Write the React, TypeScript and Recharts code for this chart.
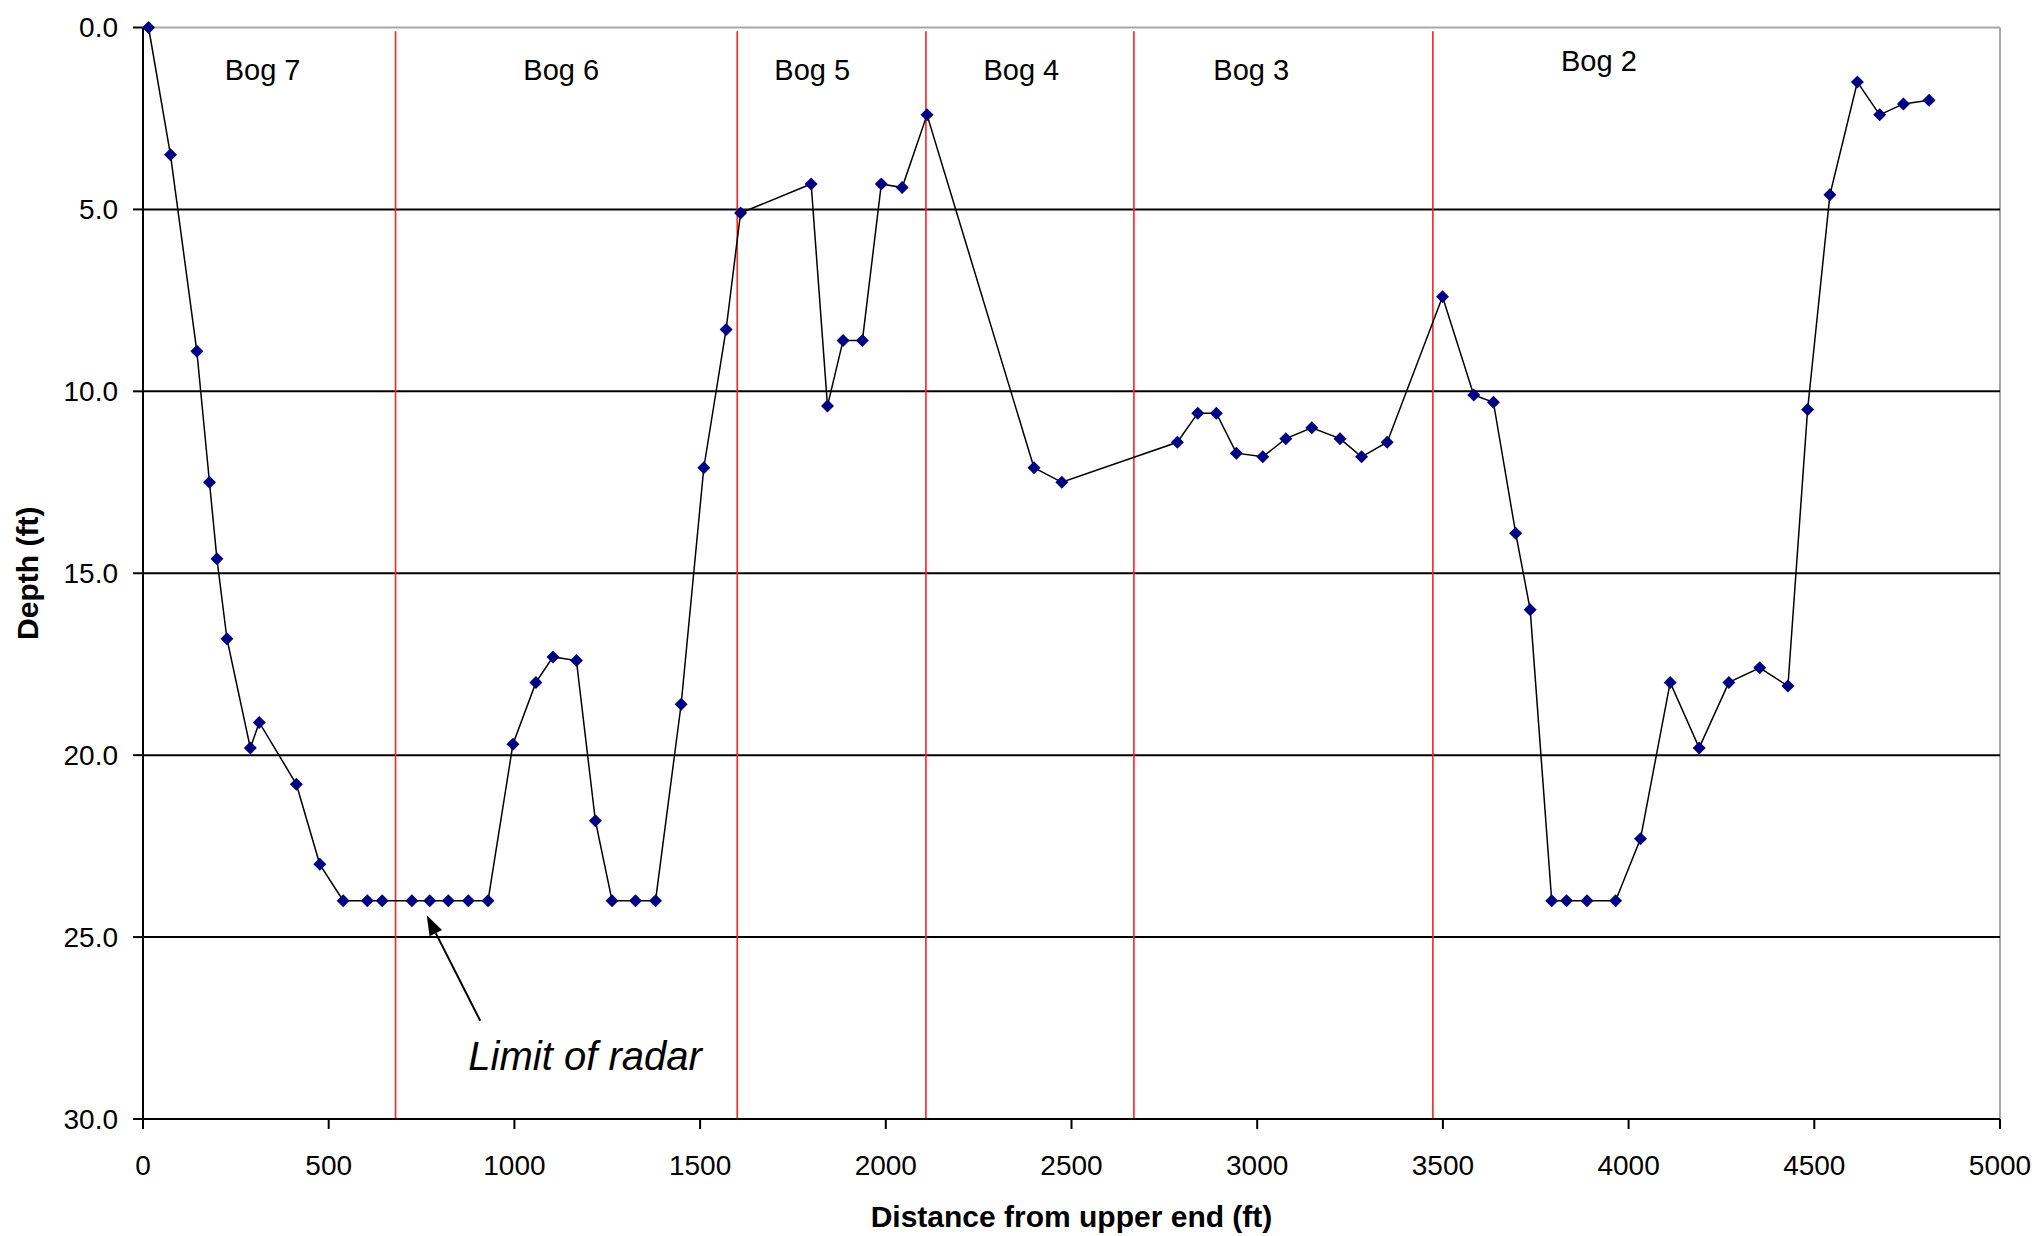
import { LineChart, Line, XAxis, YAxis, ReferenceLine, ReferenceDot, Label } from 'recharts';

// distance along the profile (ft) and measured depth (ft)
const distanceFt = [
  15, 74, 145, 179, 199, 226, 289, 313, 413, 476, 539, 604, 644, 724, 772, 822, 876, 929,
  996, 1058, 1104, 1167, 1218, 1263, 1326, 1380, 1449, 1510, 1570, 1609, 1799, 1843, 1885,
  1937, 1988, 2044, 2111, 2399, 2474, 2785, 2840, 2890, 2944, 3015, 3077, 3147, 3223, 3281,
  3350, 3499, 3583, 3636, 3696, 3735, 3793, 3833, 3888, 3965, 4032, 4112, 4190, 4270, 4353,
  4429, 4482, 4542, 4616, 4676, 4740, 4809,
];
const depthFt = [
  0.0, 3.5, 8.9, 12.5, 14.6, 16.8, 19.8, 19.1, 20.8, 23.0, 24.0, 24.0, 24.0, 24.0, 24.0, 24.0,
  24.0, 24.0, 19.7, 18.0, 17.3, 17.4, 21.8, 24.0, 24.0, 24.0, 18.6, 12.1, 8.3, 5.1, 4.3, 10.4,
  8.6, 8.6, 4.3, 4.4, 2.4, 12.1, 12.5, 11.4, 10.6, 10.6, 11.7, 11.8, 11.3, 11.0, 11.3, 11.8,
  11.4, 7.4, 10.1, 10.3, 13.9, 16.0, 24.0, 24.0, 24.0, 24.0, 22.3, 18.0, 19.8, 18.0, 17.6,
  18.1, 10.5, 4.6, 1.5, 2.4, 2.1, 2.0,
];

const xTicks = [0, 500, 1000, 1500, 2000, 2500, 3000, 3500, 4000, 4500, 5000];
const yTicks = [0, 5, 10, 15, 20, 25, 30];
const gridDepths = [5, 10, 15, 20, 25];

// bog boundaries (ft) and bog names
const bogBoundaries = [680, 1600, 2108, 2668, 3473];
const bogNames = ['Bog 7', 'Bog 6', 'Bog 5', 'Bog 4', 'Bog 3', 'Bog 2'];
const bogLabelX = [322, 1126, 1802, 2365, 2984, 3920];
const bogLabelDepth = [1.44, 1.44, 1.44, 1.44, 1.44, 1.2];

const chartData = distanceFt.map((dist, i) => ({ dist, depth: depthFt[i] }));

const FONT = '"Liberation Sans", Arial, Helvetica, sans-serif';

const renderDiamond = (props: any) => {
  const { cx, cy, index } = props;
  if (cx == null || cy == null) return null;
  const s = 6.5;
  return (
    <path
      key={`dia-${index}`}
      d={`M${cx},${cy - s}L${cx + s},${cy}L${cx},${cy + s}L${cx - s},${cy}Z`}
      fill="#000080"
    />
  );
};

const ArrowShape = (props: any) => {
  const { x1, y1, x2, y2 } = props;
  const ang = Math.atan2(y2 - y1, x2 - x1);
  const len = 20;
  const hw = 7;
  const bx = x2 - len * Math.cos(ang);
  const by = y2 - len * Math.sin(ang);
  const px = -Math.sin(ang) * hw;
  const py = Math.cos(ang) * hw;
  return (
    <g>
      <line x1={x1} y1={y1} x2={bx} y2={by} stroke="#000" strokeWidth={2} />
      <path d={`M${x2},${y2}L${bx + px},${by + py}L${bx - px},${by - py}Z`} fill="#000" />
    </g>
  );
};

export default function App() {
  return (
    <div
      style={{
        position: 'absolute',
        left: 0,
        top: 0,
        width: 2039,
        height: 1236,
        background: '#fff',
        fontFamily: FONT,
      }}
    >
      <LineChart
        width={2039}
        height={1236}
        data={chartData}
        margin={{ top: 27.5, right: 39, bottom: 57, left: 43 }}
      >
        <XAxis
          dataKey="dist"
          type="number"
          domain={[0, 5000]}
          ticks={xTicks}
          height={60}
          tickSize={10}
          tickMargin={26}
          axisLine={{ stroke: '#000', strokeWidth: 2 }}
          tickLine={{ stroke: '#000', strokeWidth: 2 }}
          tick={{ fontSize: 28, fill: '#000', fontFamily: FONT }}
        >
          <Label
            content={({ viewBox }: any) => (
              <text
                x={viewBox.x + viewBox.width / 2}
                y={viewBox.y + 108}
                textAnchor="middle"
                fontSize={30}
                fontWeight="bold"
                fontFamily={FONT}
                fill="#000"
              >
                Distance from upper end (ft)
              </text>
            )}
          />
        </XAxis>
        <YAxis
          type="number"
          reversed
          domain={[0, 30]}
          ticks={yTicks}
          width={100}
          tickSize={10}
          tickMargin={15}
          tickFormatter={(v: number) => v.toFixed(1)}
          axisLine={{ stroke: '#000', strokeWidth: 2 }}
          tickLine={{ stroke: '#000', strokeWidth: 2 }}
          tick={{ fontSize: 28, fill: '#000', fontFamily: FONT }}
        >
          <Label
            content={({ viewBox }: any) => {
              const cx = viewBox.x - 5;
              const cy = viewBox.y + viewBox.height / 2;
              return (
                <text
                  x={cx}
                  y={cy}
                  transform={`rotate(-90, ${cx}, ${cy})`}
                  textAnchor="middle"
                  fontSize={30}
                  fontWeight="bold"
                  fontFamily={FONT}
                  fill="#000"
                >
                  Depth (ft)
                </text>
              );
            }}
          />
        </YAxis>

        {/* plot frame: gray top and right, black horizontal gridlines */}
        <ReferenceLine y={0} stroke="#a8a8a8" strokeWidth={2} />
        <ReferenceLine x={5000} stroke="#a8a8a8" strokeWidth={2} />
        {gridDepths.map((d) => (
          <ReferenceLine key={`g-${d}`} y={d} stroke="#000" strokeWidth={2} />
        ))}

        {bogBoundaries.map((b) => (
          <ReferenceLine
            key={`b-${b}`}
            segment={[
              { x: b, y: 0.1 },
              { x: b, y: 30 },
            ]}
            stroke="#ff2020"
            strokeWidth={1.6}
          />
        ))}

        {bogNames.map((name, i) => (
          <ReferenceDot
            key={name}
            x={bogLabelX[i]}
            y={bogLabelDepth[i]}
            shape={(p: any) => (
              <text
                x={p.cx}
                y={p.cy}
                textAnchor="middle"
                fontSize={29}
                fontFamily={FONT}
                fill="#000"
              >
                {name}
              </text>
            )}
          />
        ))}

        <ReferenceLine
          segment={[
            { x: 908, y: 27.3 },
            { x: 764, y: 24.4 },
          ]}
          shape={ArrowShape}
        />
        <ReferenceDot
          x={876}
          y={28.66}
          shape={(p: any) => (
            <text
              x={p.cx}
              y={p.cy}
              textAnchor="start"
              fontSize={40}
              fontStyle="italic"
              fontFamily={FONT}
              fill="#000"
            >
              Limit of radar
            </text>
          )}
        />

        <Line
          type="linear"
          dataKey="depth"
          stroke="#000"
          strokeWidth={1.5}
          dot={renderDiamond}
          activeDot={false}
          isAnimationActive={false}
        />
      </LineChart>
    </div>
  );
}
